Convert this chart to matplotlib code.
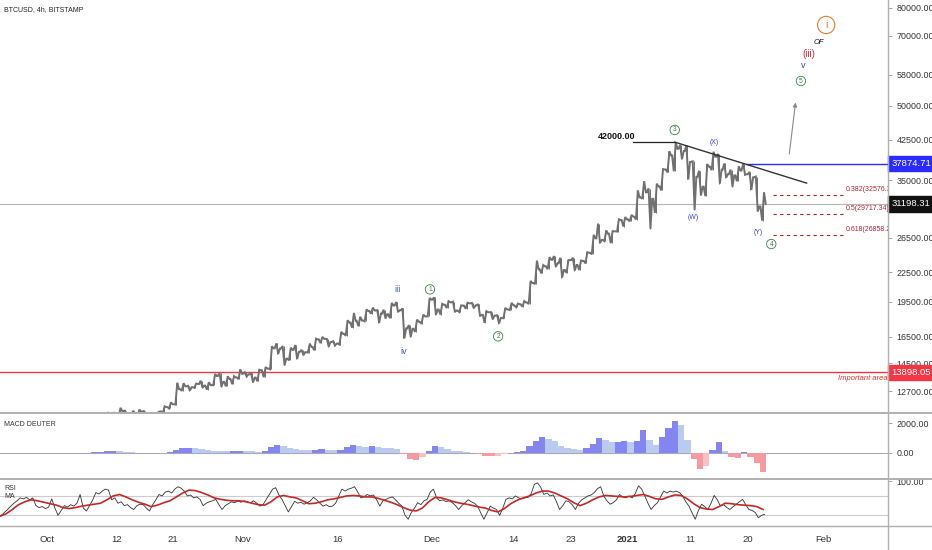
import numpy as np
import pandas as pd
import matplotlib
matplotlib.use("Agg")
import matplotlib.pyplot as plt
from matplotlib.lines import Line2D
from matplotlib.ticker import NullLocator, FixedLocator

plt.rcParams['font.family'] = ['Liberation Sans', 'DejaVu Sans']

# ---------------- data (daily) ----------------
start_date = "2020-09-23"
first_open = 10530
close = [
    # Sep 23-30
    10230, 10730, 10690, 10730, 10770, 10700, 10840, 10780,
    # Oct
    10620, 10570, 10550, 10670, 10790, 10600, 10670, 10920, 11060, 11300,
    11380, 11540, 11430, 11430, 11500, 11330, 11370, 11520, 11760, 11920,
    12820, 12990, 12940, 13130, 13040, 13070, 13650, 13280, 13460, 13560, 13800,
    # Nov
    13760, 13550, 14030, 14150, 15590, 15580, 14840, 15480, 15330, 15310,
    15700, 16280, 16320, 16070, 15960, 16720, 17650, 17800, 17820, 18660,
    18700, 18420, 18370, 19150, 18730, 17150, 17130, 17720, 18180, 19700,
    # Dec
    18790, 19220, 19450, 18700, 19150, 19360, 19170, 18320, 18550, 18250,
    18040, 18800, 19170, 19270, 19440, 21350, 22800, 23130, 23860, 23470,
    22720, 23830, 23280, 23730, 24680, 26450, 26250, 27030, 27360, 28880, 28970,
    # Jan
    29350, 32200, 33000, 31980, 33950, 36820, 39400, 40670, 40240, 38200,
    35540, 33910, 37320, 39150, 36800, 36000, 35800, 36630, 36000, 35470,
    30830, 31198,
]
high = [
    10540, 10770, 10760, 10780, 10800, 10950, 10860, 10850,
    10920, 10640, 10600, 10700, 10800, 10800, 10690, 10960, 11100, 11480,
    11440, 11720, 11560, 11550, 11620, 11540, 11400, 11480, 11800, 12030,
    13220, 13190, 13030, 13170, 13350, 13250, 13790, 13850, 13640, 13650, 14090,
    13900, 13830, 14070, 14250, 15750, 15970, 15770, 15650, 15840, 15480,
    15950, 16340, 16480, 16320, 16140, 16880, 17850, 18480, 18150, 18800,
    18960, 18740, 18770, 19400, 19480, 18900, 17440, 17900, 18340, 19860,
    19920, 19320, 19560, 19520, 19170, 19420, 19400, 19290, 18640, 18560,
    18280, 18940, 19410, 19340, 19570, 21560, 23770, 23270, 24170, 24290,
    24100, 23830, 24100, 23780, 24750, 26900, 28400, 27480, 27380, 28990, 29300,
    29600, 33300, 34800, 33600, 34400, 36900, 40200, 42000, 41400, 41350,
    38300, 36600, 37800, 40100, 39700, 37900, 36800, 37400, 37874, 36400,
    35600, 33000,
]
low = [
    10140, 10200, 10600, 10650, 10620, 10650, 10640, 10680,
    10440, 10370, 10500, 10520, 10600, 10530, 10560, 10530, 10820, 11050,
    11280, 11200, 11300, 11280, 11270, 11230, 11310, 11350, 11400, 11680,
    11900, 12710, 12730, 12900, 12910, 12790, 13060, 12960, 12990, 13130, 13450,
    13620, 13240, 13310, 13570, 14100, 15180, 14370, 14720, 14820, 15080,
    15280, 15450, 15990, 15720, 15800, 15880, 16560, 17220, 17350, 17750,
    18420, 17620, 18000, 18020, 18570, 16350, 16470, 16880, 17540, 18180,
    18320, 18340, 18920, 18570, 18560, 18860, 18900, 18200, 17630, 17920,
    17570, 18020, 18740, 19000, 19050, 19290, 21230, 22350, 22800, 23080,
    21900, 22400, 22650, 22720, 23450, 24500, 25850, 26100, 25850, 27330, 28000,
    28700, 28950, 32000, 27700, 29900, 33300, 36300, 36500, 38700, 35100,
    30300, 32500, 32400, 36700, 34400, 35400, 33900, 34800, 35900, 33400,
    30100, 28800,
]
# MACD histogram, daily
macd_hist = [
    -20, -10, 0, 10, 15, 15, 10, 5,
    5, -10, -20, -10, 0, 10, 20,
    60, 90, 120, 130, 110, 80,
    50, 20, 10, 0, 0, 20, 60,
    200, 330, 350, 300, 240, 180, 150,
    140, 120, 130, 140, 110, 100, 90, 130,
    380, 510, 440, 300, 250, 220, 180,
    230, 240, 200, 170, 200, 420,
    555, 480, 420, 480, 400, 350, 300,
    280, -50, -400, -490, -250, 150,
    470, 400, 250, 150, 100, 80,
    30, -80, -180, -230, -180, -90, 10,
    60, 150, 500, 800, 1090, 950,
    800, 450, 350, 250, 200, 300,
    600, 1000, 900, 750, 760, 780,
    740, 800, 1545, 900, 550, 1100,
    1700, 2150, 1900, 900,
    -400, -1070, -900, 200, 750, 150, -250, -320, 50, -300, -700, -1300,
]
# RSI, every 12 hours
rsi = [
    28, 30, 36, 42, 49, 55, 60, 66, 64, 67, 62, 66, 50, 46, 48, 44,
    47, 64, 45, 30, 40, 50, 47, 52, 49, 55, 73, 45, 39, 50, 62, 77,
    74, 80, 84, 82, 62, 66, 55, 58, 50, 52, 46, 42, 50, 53, 52, 45,
    39, 52, 62, 73, 70, 78, 80, 76, 84, 89, 86, 80, 70, 72, 66, 68,
    63, 50, 55, 58, 60, 63, 52, 42, 50, 54, 58, 56, 60, 57, 60, 58,
    56, 60, 55, 49, 52, 63, 73, 84, 87, 72, 63, 50, 37, 48, 59, 55,
    57, 53, 56, 60, 67, 62, 55, 49, 52, 48, 49, 55, 70, 84, 80, 84,
    86, 89, 78, 66, 68, 73, 70, 72, 62, 49, 60, 63, 66, 68, 62, 55,
    49, 30, 22, 36, 45, 56, 52, 60, 63, 78, 84, 66, 60, 62, 58, 60,
    56, 50, 42, 50, 56, 62, 58, 55, 49, 35, 22, 35, 49, 45, 42, 30,
    45, 63, 66, 64, 70, 66, 64, 66, 67, 75, 94, 97, 88, 73, 76, 70,
    72, 58, 42, 50, 60, 58, 52, 42, 55, 62, 66, 70, 72, 77, 85, 89,
    70, 60, 53, 56, 62, 73, 68, 66, 70, 66, 75, 91, 84, 70, 55, 42,
    50, 56, 68, 80, 76, 80, 78, 80, 77, 70, 58, 49, 35, 22, 40, 53,
    48, 42, 55, 71, 62, 49, 52, 46, 42, 48, 53, 58, 63, 52, 42, 40,
    36, 25, 30, 32,
]
# RSI moving average, daily
rsi_ma = [
    28, 33, 42, 52, 58, 62, 60, 57,
    54, 51, 46, 44, 46, 49, 51, 53, 55, 62, 70, 73, 68, 62, 57, 53, 48,
    51, 56, 60, 68, 76, 82, 81, 77, 72, 66, 63, 61, 60, 60, 58, 55,
    52, 51, 58, 68, 71, 68, 66, 60, 54, 55, 58, 62, 64, 67, 70, 71, 70,
    68, 68, 65, 61, 57, 52, 46, 41, 39, 45, 58, 67, 66, 62, 58, 55, 53,
    50, 47, 45, 40, 37, 44, 54, 61, 66, 70, 76, 80, 80, 76, 70, 64, 56,
    50, 55, 62, 68, 71, 70, 69, 68, 69, 71, 73, 69, 64, 63, 68, 72, 71,
    64, 54, 46, 43, 42, 48, 55, 54, 52, 51, 50, 48, 42,
]

price_levels = {"blue": 37874.71, "last": 31198.31, "red": 13898.05}
fib_levels = [(0.382, 32576.39), (0.5, 29717.34), (0.618, 26858.29)]
price_ticks = [80000, 70000, 58000, 50000, 42500, 35000, 26500, 22500,
               19500, 16500, 14500, 12700]
date_ticks = ["2020-10-01", "2020-10-12", "2020-10-21", "2020-11-01", "2020-11-16",
              "2020-12-01", "2020-12-14", "2020-12-23", "2021-01-01", "2021-01-11",
              "2021-01-20", "2021-02-01"]
date_tick_labels = ["Oct", "12", "21", "Nov", "16", "Dec", "14", "23", "2021", "11", "20", "Feb"]

# ---------------- helpers ----------------
ref = pd.Timestamp("2020-10-01")
def dnum(s):
    return (pd.Timestamp(s) - ref) / pd.Timedelta(days=1)

n = min(len(close), len(high), len(low))
days = pd.date_range(start_date, periods=n, freq="D")
dx = np.array([(d - ref) / pd.Timedelta(days=1) for d in days])
c = np.array(close[:n], float)
o = np.concatenate([[first_open], c[:-1]])
h = np.array(high[:n], float)
l = np.array(low[:n], float)

W, H = 932, 550
fig = plt.figure(figsize=(W / 100, H / 100), dpi=100)
fig.patch.set_facecolor("white")

def rect(x0, y0, x1, y1):
    return [x0 / W, 1 - y1 / H, (x1 - x0) / W, (y1 - y0) / H]

ax = fig.add_axes(rect(0, 0, 888, 413))
axm = fig.add_axes(rect(0, 413, 888, 478), sharex=ax)
axr = fig.add_axes(rect(0, 478, 888, 526), sharex=ax)

XMIN, XMAX = -7.45, 133.3
TXT = "#333333"
for a in (ax, axm, axr):
    for s in a.spines.values():
        s.set_visible(False)
    a.yaxis.tick_right()
    a.tick_params(axis="y", direction="out", length=3, width=0.6, color="#999999",
                  labelsize=6.4, labelcolor=TXT, pad=3)
    a.tick_params(axis="x", bottom=False, labelbottom=False)
    a.set_facecolor("white")
ax.set_xlim(XMIN, XMAX)

# ---------------- main price panel ----------------
ax.set_yscale("log")
ax.set_ylim(11430, 83130)
ax.yaxis.set_major_locator(FixedLocator(price_ticks))
ax.yaxis.set_minor_locator(NullLocator())
ax.set_yticklabels([f"{v:.2f}" for v in price_ticks])

# daily bars drawn as a thin OHLC path (open -> extreme -> extreme -> close)
gray = "#707070"
px, py = [], []
for i in range(n):
    up = c[i] >= o[i]
    e1, e2 = (l[i], h[i]) if up else (h[i], l[i])
    px += [dx[i] + 0.08, dx[i] + 0.35, dx[i] + 0.65, dx[i] + 0.92]
    py += [o[i], e1, e2, c[i]]
ax.plot(px, py, color=gray, lw=1.4, zorder=3, solid_joinstyle="miter")
ax.vlines(dx + 0.5, l, h, color=gray, lw=0.7, zorder=3)

# horizontal levels
ax.axhline(price_levels["last"], color="#b5b5b5", lw=0.8, zorder=1)
ax.axhline(price_levels["red"], color="#f23645", lw=1.0, zorder=2)
ax.plot([dnum("2021-01-19") + 0.9, XMAX], [price_levels["blue"]] * 2, color="#2b2bff", lw=1.0, zorder=2)
# 42000 line and descending trendline
ax.plot([dnum("2021-01-01") + 0.9, dnum("2021-01-08") + 0.5], [42000, 42000], color="#222222", lw=0.9, zorder=4)
ax.plot([dnum("2021-01-08") + 0.5, dnum("2021-01-29") + 0.4], [42000, 34490], color="#333333", lw=1.0, zorder=4)
ax.text(dnum("2021-01-02") + 0.3, 42300, "42000.00", ha="right", va="bottom", fontsize=6.5,
        color="#111111", fontweight="bold")
# projection arrow
ax.annotate("", xy=(dnum("2021-01-27") + 0.7, 51480), xytext=(dnum("2021-01-26") + 0.6, 39160),
            arrowprops=dict(arrowstyle="-|>", color="#8a8a8a", lw=0.8, mutation_scale=6))
# fib levels
for r, v in fib_levels:
    ax.plot([dnum("2021-01-24") + 0.1, dnum("2021-02-04") + 0.3], [v, v], color="#b22234",
            lw=0.8, ls=(0, (3, 3)), zorder=2)
    lab = f"{r}({v:.2f})" if r == 0.5 else f"{r}({v:.2f}"
    ax.text(dnum("2021-02-04") + 0.6, v * 1.012, lab, ha="left", va="bottom", fontsize=5.0,
            color="#b22234", clip_on=True)
ax.text(dnum("2021-02-11") + 0.2, 13898.05 * 0.985, "Important area", ha="right", va="top",
        fontsize=5.5, color="#e03030", style="italic")

# wave labels
blue_lab = "#3b5ba8"
def circ(x, y, t, col, fs=4.8, pad=0.18, lw=0.6):
    ax.text(x, y, t, ha="center", va="center", fontsize=fs, color=col, zorder=6,
            bbox=dict(boxstyle=f"circle,pad={pad}", fc="white", ec=col, lw=lw))
green = "#3e7d4a"
ax.text(dnum("2020-11-25") + 0.6, 20700, "iii", ha="center", va="center", fontsize=6.5, color=blue_lab)
ax.text(dnum("2020-11-26") + 0.6, 15370, "iv", ha="center", va="center", fontsize=6.5, color=blue_lab)
circ(dnum("2020-11-30") + 0.7, 20700, "1", green)
circ(dnum("2020-12-11") + 0.5, 16520, "2", green)
circ(dnum("2021-01-08") + 0.5, 44530, "3", green)
circ(dnum("2021-01-23") + 0.8, 25740, "4", green)
circ(dnum("2021-01-28") + 0.5, 56330, "5", green)
wx = "#3d3dd6"
ax.text(dnum("2021-01-14") + 0.7, 41840, "(X)", ha="center", va="center", fontsize=5, color=wx)
ax.text(dnum("2021-01-11") + 0.4, 29300, "(W)", ha="center", va="center", fontsize=5, color=wx)
ax.text(dnum("2021-01-21") + 0.8, 27260, "(Y)", ha="center", va="center", fontsize=5, color=wx)
ax.text(dnum("2021-01-28") + 0.9, 60830, "v", ha="center", va="center", fontsize=6.5, color="#3344bb")
ax.text(dnum("2021-01-29") + 0.7, 64130, "(iii)", ha="center", va="center", fontsize=7, color="#d0303a")
ax.text(dnum("2021-01-31") + 0.4, 67620, "OF", ha="center", va="center", fontsize=5.5, color="#111111",
        style="italic")
circ(dnum("2021-02-01") + 0.5, 73730, "i", "#f07a2a", fs=7.5, pad=0.35, lw=0.8)

# price boxes on the axis
def price_box(a, v, txt, fc):
    a.annotate(txt, xy=(1.0, v), xycoords=("axes fraction", "data"), xytext=(2.6, 0),
               textcoords="offset points", ha="left", va="center", fontsize=6.8, color="white",
               annotation_clip=False, zorder=20,
               bbox=dict(boxstyle="square,pad=0.35", fc=fc, ec=fc))
price_box(ax, price_levels["blue"], "37874.71", "#2b2bff")
price_box(ax, price_levels["last"], "31198.31", "#111111")
price_box(ax, price_levels["red"], "13898.05", "#f23645")

# ---------------- MACD panel ----------------
m = np.array(macd_hist[:n], float)
prev = np.concatenate([[m[0]], m[:-1]])
cols = []
for v, p in zip(m, prev):
    if v >= 0:
        cols.append("#8585f2" if v >= p else "#b9cbee")
    else:
        cols.append("#f59aa0" if v <= p else "#f7c0c3")
axm.bar(dx[:len(m)] + 0.5, m, width=1.0, color=cols, lw=0, zorder=2)
axm.axhline(0, color="#a8a8b8", lw=0.8, zorder=1)
axm.set_ylim(-1667, 2667)
axm.set_yticks([0, 2000])
axm.set_yticklabels(["0.00", "2000.00"])

# ---------------- RSI panel ----------------
rsi_t = pd.date_range(start_date, periods=len(rsi), freq="12h")
rx = np.array([(d - ref) / pd.Timedelta(days=1) for d in rsi_t]) + 0.25
ma_t = pd.date_range(start_date, periods=len(rsi_ma), freq="D")
mx = np.array([(d - ref) / pd.Timedelta(days=1) for d in ma_t]) + 0.5
axr.axhline(70, color="#cccccc", lw=0.8, zorder=1)
axr.axhline(30, color="#cccccc", lw=0.8, zorder=1)
axr.plot(rx, rsi, color="#303030", lw=0.6, zorder=3)
axr.plot(mx, rsi_ma, color="#c62828", lw=1.2, zorder=4)
axr.set_ylim(8, 107)
axr.set_yticks([100])
axr.set_yticklabels(["100.00"])

# date axis
axr.set_xticks([dnum(s) for s in date_ticks])
axr.set_xticklabels(date_tick_labels)
axr.tick_params(axis="x", bottom=False, labelbottom=True, labelsize=6.8, labelcolor=TXT, pad=3)
for t in axr.get_xticklabels():
    if t.get_text() == "2021":
        t.set_fontweight("bold")
ax.set_xlim(XMIN, XMAX)

# panel labels
fig.text(4 / W, 1 - 10 / H, "BTCUSD, 4h, BITSTAMP", fontsize=5.0, color="#222222", va="center")
fig.text(4 / W, 1 - 424 / H, "MACD DEUTER", fontsize=5.0, color="#333333", va="center")
fig.text(4 / W, 1 - 489 / H, "RSI", fontsize=5.0, color="#333333", va="center")
fig.text(4 / W, 1 - 497 / H, "MA", fontsize=5.0, color="#333333", va="center")

# separators and the price axis line
for yy, lw in ((413, 1.4), (478.5, 1.4), (526, 1.0)):
    fig.add_artist(Line2D([0, 1], [1 - yy / H] * 2, color="#b0b0b0", lw=lw))
fig.add_artist(Line2D([888 / W] * 2, [0, 1], color="#b0b0b0", lw=1.0))

fig.savefig("out.png", dpi=100, facecolor="white")
